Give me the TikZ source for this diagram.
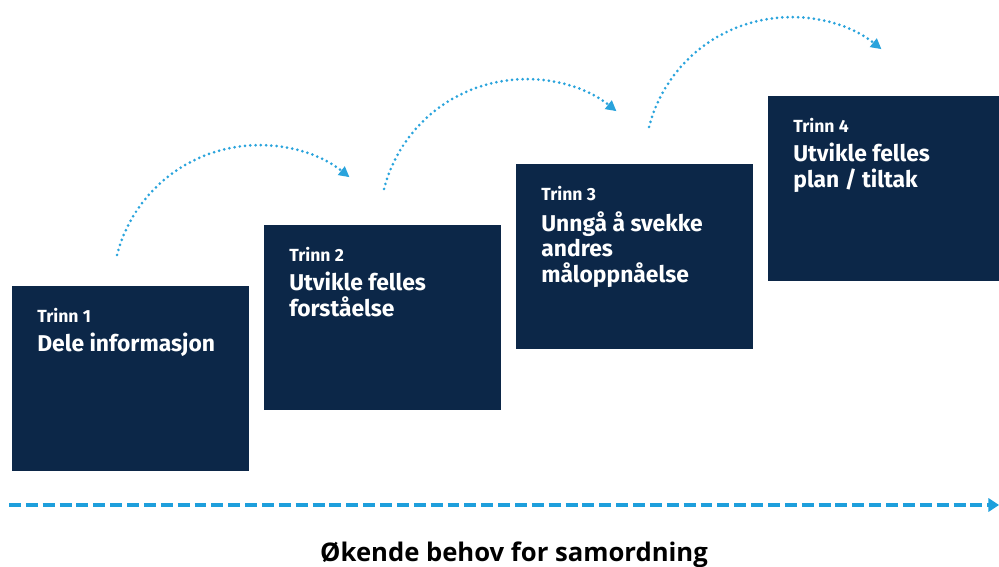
\documentclass[tikz,border=0pt]{standalone}
\usepackage{fontspec}
\setmainfont{Fira Sans}
\newfontfamily\capfont{Open Sans}
\usetikzlibrary{arrows.meta,positioning}
\definecolor{navy}{HTML}{0C2748}
\definecolor{skyblue}{HTML}{29A3DC}
\definecolor{lineblue}{HTML}{1E9FDC}

\tikzset{
  stepbox/.style={fill=navy, minimum width=4.74cm, minimum height=3.7cm, anchor=north west, inner sep=0pt},
  tag/.style={text=white, font=\bfseries\fontsize{10}{12}\selectfont, anchor=base west, inner sep=0pt},
  steptitle/.style={text=white, font=\bfseries\fontsize{13}{14.7}\selectfont, align=left, anchor=north west, inner sep=0pt},
  hop/.style={skyblue, line width=1.7pt, line cap=round, dash pattern=on 0pt off 3pt, -{Triangle[length=6pt,width=6pt]}},
  growth/.style={lineblue, line width=2.8pt, dash pattern=on 6.8pt off 2.8pt, -{Triangle[length=6pt,width=7.5pt]}},
}

\begin{document}
\begin{tikzpicture}[x=0.02cm,y=0.02cm]
  \useasboundingbox (0,0) rectangle (999,567);

  % steps
  \node[stepbox] (s1) at (12,281) {};
  \node[stepbox] (s2) at (264,342) {};
  \node[stepbox] (s3) at (516,403) {};
  \node[stepbox] (s4) at (768,471) {};

  \node[tag] (t1) at ([shift={(25,-37)}]s1.north west) {Trinn 1};
  \node[tag] (t2) at ([shift={(25,-37)}]s2.north west) {Trinn 2};
  \node[tag] (t3) at ([shift={(25,-37)}]s3.north west) {Trinn 3};
  \node[tag] (t4) at ([shift={(25,-37)}]s4.north west) {Trinn 4};

  \node[steptitle] (n1) at ([shift={(25,-47)}]s1.north west) {Dele informasjon};
  \node[steptitle] (n2) at ([shift={(25,-47)}]s2.north west) {Utvikle felles\\forståelse};
  \node[steptitle] (n3) at ([shift={(25,-47)}]s3.north west) {Unngå å svekke\\andres\\måloppnåelse};
  \node[steptitle] (n4) at ([shift={(25,-47)}]s4.north west) {Utvikle felles\\plan / tiltak};

  % hops between steps
  \coordinate (h1) at (117,312);
  \coordinate (h2) at (384,378);
  \coordinate (h3) at (649,440);
  \draw[hop] (h1) arc[start angle=165.6, end angle=51.4, radius=146];
  \draw[hop] (h2) arc[start angle=165.6, end angle=51.4, radius=146];
  \draw[hop] (h3) arc[start angle=165.6, end angle=51.4, radius=146];

  % bottom axis
  \coordinate (g0) at (9,62);
  \coordinate (g1) at (999,62);
  \draw[growth] (g0) -- (g1);
  \node[font=\capfont\bfseries\fontsize{14.6}{17}\selectfont, anchor=base] (axis) at (514,6) {Økende behov for samordning};
\end{tikzpicture}
\end{document}
